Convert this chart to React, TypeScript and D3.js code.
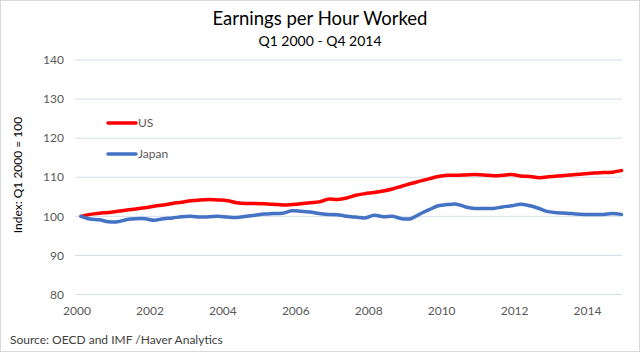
import React, { useEffect } from "react";
import * as d3 from "d3";

const quarters: string[] = [];
for (let y = 2000; y <= 2014; y++) for (let q = 1; q <= 4; q++) quarters.push(`Q${q} ${y}`);

const usValues = [
  100.0, 100.5, 100.8, 101.0, 101.3, 101.6, 101.9, 102.2, 102.6, 102.9,
  103.3, 103.6, 104.0, 104.2, 104.3, 104.2, 104.0, 103.5, 103.3, 103.3,
  103.2, 103.1, 102.9, 103.0, 103.2, 103.5, 103.7, 104.4, 104.3, 104.7,
  105.4, 105.8, 106.1, 106.5, 107.0, 107.7, 108.4, 109.0, 109.6, 110.2,
  110.5, 110.5, 110.6, 110.7, 110.6, 110.4, 110.5, 110.7, 110.3, 110.2,
  109.9, 110.1, 110.3, 110.5, 110.7, 110.9, 111.1, 111.2, 111.3, 111.7,
];

const japanValues = [
  100.0, 99.3, 99.1, 98.6, 98.6, 99.2, 99.4, 99.4, 99.0, 99.4,
  99.6, 99.9, 100.0, 99.8, 99.9, 100.0, 99.8, 99.7, 100.0, 100.3,
  100.6, 100.7, 100.8, 101.4, 101.3, 101.1, 100.7, 100.5, 100.4, 100.0,
  99.8, 99.6, 100.3, 99.9, 100.0, 99.4, 99.4, 100.6, 101.7, 102.7,
  103.0, 103.1, 102.4, 102.0, 102.0, 102.0, 102.4, 102.7, 103.1, 102.7,
  102.0, 101.2, 100.9, 100.8, 100.6, 100.5, 100.5, 100.5, 100.7, 100.5,
];

const yTicks = [80, 90, 100, 110, 120, 130, 140];
const xTickYears = [2000, 2002, 2004, 2006, 2008, 2010, 2012, 2014];

const series = [
  { name: "US", values: usValues, color: "#ff0000" },
  { name: "Japan", values: japanValues, color: "#4472c4" },
];

const FONT = "Lato, 'Open Sans', sans-serif";

export default function App() {
  useEffect(() => {
    document.body.style.margin = "0";
  }, []);

  const W = 640;
  const H = 352;
  const plotLeft = 75;
  const plotRight = 622;

  const yScale = d3.scaleLinear().domain([80, 140]).range([294.5, 60]);
  const yearScale = d3.scaleLinear().domain([2000, 2015]).range([plotLeft, plotRight]);
  const qScale = d3.scaleLinear().domain([0, quarters.length - 1]).range([81, 621.5]);

  const line = d3
    .line<number>()
    .x((_, i) => qScale(i))
    .y((d) => yScale(d))
    .curve(d3.curveCatmullRom.alpha(0.5));

  return (
    <svg width={W} height={H} style={{ display: "block", position: "absolute", left: 0, top: 0 }}>
      <rect x={0.5} y={0.5} width={W - 1} height={H - 1} fill="#ffffff" stroke="#d9d9d9" />
      <text x={320} y={25} textAnchor="middle" fontFamily={FONT} fontSize={18.5} fill="#000">
        Earnings per Hour Worked
      </text>
      <text x={320} y={46} textAnchor="middle" fontFamily={FONT} fontSize={14} fill="#000">
        Q1 2000 - Q4 2014
      </text>

      {yTicks.map((t) => (
        <g key={t}>
          <line x1={plotLeft} x2={plotRight} y1={yScale(t)} y2={yScale(t)} stroke="#d3deec" strokeWidth={1} />
          <text x={64} y={yScale(t)} dy="0.35em" textAnchor="end" fontFamily={FONT} fontSize={12} fill="#595959">
            {t}
          </text>
        </g>
      ))}

      {xTickYears.map((yr) => (
        <text key={yr} x={yearScale(yr) + 2} y={315} textAnchor="middle" fontFamily={FONT} fontSize={12} fill="#595959">
          {yr}
        </text>
      ))}

      <text
        transform={`translate(22,175) rotate(-90)`}
        textAnchor="middle"
        fontFamily={FONT}
        fontSize={12}
        fill="#000"
      >
        Index: Q1 2000 = 100
      </text>

      {series.map((s) => (
        <path key={s.name} d={line(s.values) || ""} fill="none" stroke={s.color} strokeWidth={3.5} strokeLinejoin="round" strokeLinecap="round" />
      ))}

      {series.map((s, i) => (
        <g key={s.name} transform={`translate(108,${123 + i * 31})`}>
          <line x1={0} x2={28} y1={0} y2={0} stroke={s.color} strokeWidth={3.5} strokeLinecap="round" />
          <text x={30} y={0} dy="0.35em" fontFamily={FONT} fontSize={12} fill="#595959">
            {s.name}
          </text>
        </g>
      ))}

      <text x={10} y={344} fontFamily={FONT} fontSize={12} fill="#404040">
        Source: OECD and IMF /Haver Analytics
      </text>
    </svg>
  );
}
